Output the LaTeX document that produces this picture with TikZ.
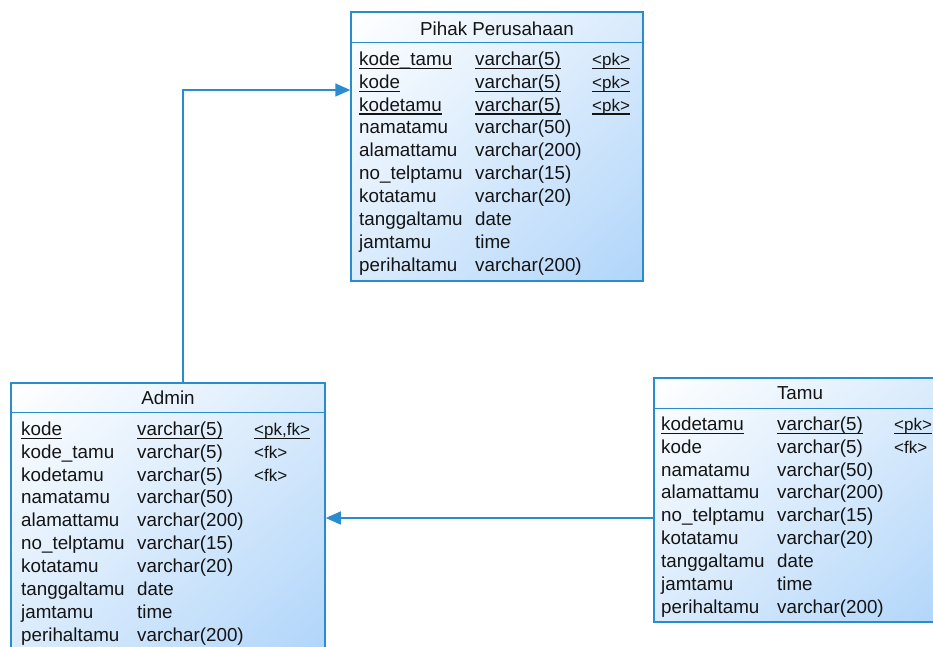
\documentclass[tikz,border=0pt]{standalone}
\usepackage{fontspec}
\setmainfont{Liberation Sans}
\usepackage{array}
\usetikzlibrary{arrows.meta,positioning,shadings}
\definecolor{entline}{RGB}{40,140,205}
\definecolor{entfill}{RGB}{176,213,250}
\definecolor{entmid}{RGB}{218,235,252}
\definecolor{enttext}{RGB}{20,20,20}
\tikzstyle{entity} = [draw=entline, line width=1.5pt, inner sep=0pt, upper left=white, upper right=entmid, lower left=entmid, lower right=entfill]
\tikzstyle{divider} = [draw=entline, line width=1.5pt]
\tikzstyle{title} = [inner sep=0pt, text=enttext]
\tikzstyle{cols} = [inner sep=0pt, anchor=north west, text=enttext]
\tikzstyle{rel} = [draw=entline, line width=1.5pt, -{Triangle[length=15pt,width=13pt]}]

\newcommand{\keyu}[1]{\leavevmode\setbox0\hbox{#1}\rlap{\rule[-3.5pt]{\wd0}{1.1pt}}\box0}
\newcommand{\keytag}[1]{{\fontsize{17}{22.9}\selectfont #1}}
\newcommand{\attrs}[1]{\begin{tabular}{@{}p{116pt}@{}p{117pt}@{}l@{}}#1\end{tabular}}

\begin{document}
\begin{tikzpicture}[x=1pt, y=-1pt, font=\fontsize{18.8}{22.9}\selectfont]
  \useasboundingbox (0,0) rectangle (933,646);

  % entities
  \node[entity, minimum width=292pt, minimum height=269pt] (pihak) at (497,146.5) {};
  \node[entity, minimum width=314pt, minimum height=268pt] (admin) at (168,517) {};
  \node[entity, minimum width=292pt, minimum height=244pt] (tamu) at (800,500) {};

  \draw[divider] ([yshift=-31pt]pihak.north west) -- ([yshift=-31pt]pihak.north east);
  \draw[divider] ([yshift=-30pt]admin.north west) -- ([yshift=-30pt]admin.north east);
  \draw[divider] ([yshift=-31pt]tamu.north west) -- ([yshift=-31pt]tamu.north east);

  \node[title] (pihaktitle) at (497,29) {Pihak Perusahaan};
  \node[title] (admintitle) at (168,398) {Admin};
  \node[title] (tamutitle) at (800,393) {Tamu};

  \node[cols] (pihakattr) at (359,49) {\attrs{
    \keyu{kode\_tamu} & \keyu{varchar(5)} & \keyu{\keytag{<pk>}}\\
    \keyu{kode} & \keyu{varchar(5)} & \keyu{\keytag{<pk>}}\\
    \keyu{kodetamu} & \keyu{varchar(5)} & \keyu{\keytag{<pk>}}\\
    namatamu & varchar(50) & \\
    alamattamu & varchar(200) & \\
    no\_telptamu & varchar(15) & \\
    kotatamu & varchar(20) & \\
    tanggaltamu & date & \\
    jamtamu & time & \\
    perihaltamu & varchar(200) & }};

  \node[cols] (adminattr) at (21,419) {\attrs{
    \keyu{kode} & \keyu{varchar(5)} & \keyu{\keytag{<pk,fk>}}\\
    kode\_tamu & varchar(5) & \keytag{<fk>}\\
    kodetamu & varchar(5) & \keytag{<fk>}\\
    namatamu & varchar(50) & \\
    alamattamu & varchar(200) & \\
    no\_telptamu & varchar(15) & \\
    kotatamu & varchar(20) & \\
    tanggaltamu & date & \\
    jamtamu & time & \\
    perihaltamu & varchar(200) & }};

  \node[cols] (tamuattr) at (661,414) {\attrs{
    \keyu{kodetamu} & \keyu{varchar(5)} & \keyu{\keytag{<pk>}}\\
    kode & varchar(5) & \keytag{<fk>}\\
    namatamu & varchar(50) & \\
    alamattamu & varchar(200) & \\
    no\_telptamu & varchar(15) & \\
    kotatamu & varchar(20) & \\
    tanggaltamu & date & \\
    jamtamu & time & \\
    perihaltamu & varchar(200) & }};

  % references
  \draw[rel] ([xshift=15pt]admin.north) |- ([yshift=56.5pt]pihak.west);
  \draw[rel] ([yshift=-18pt]tamu.west) -- ([yshift=-18pt]tamu.west -| admin.east);

\end{tikzpicture}
\end{document}
